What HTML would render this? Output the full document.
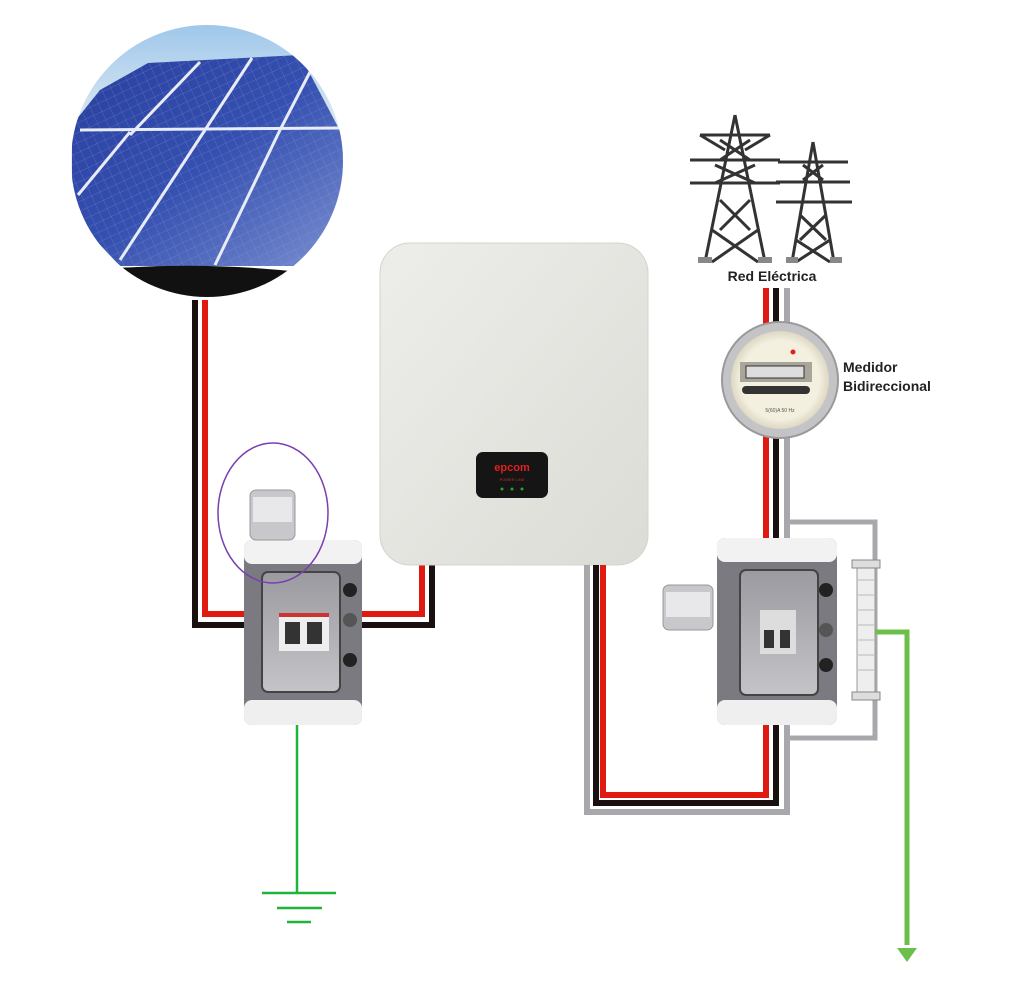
<!DOCTYPE html>
<html><head><meta charset="utf-8"><style>
html,body{margin:0;padding:0;background:#fff;width:1024px;height:1001px;overflow:hidden}
text{font-family:"Liberation Sans","DejaVu Sans",sans-serif}
</style></head><body>
<svg width="1024" height="1001" viewBox="0 0 1024 1001" xmlns="http://www.w3.org/2000/svg">
<defs>
<clipPath id="cc"><circle cx="207" cy="161" r="136"/></clipPath>
<linearGradient id="sky" x1="0" y1="0" x2="0" y2="1"><stop offset="0" stop-color="#9cc6ea"/><stop offset="0.4" stop-color="#e4ecf4"/><stop offset="1" stop-color="#f2f2f2"/></linearGradient>
<linearGradient id="pan" x1="0" y1="0" x2="1" y2="1"><stop offset="0" stop-color="#2a3f9e"/><stop offset="0.5" stop-color="#3550b0"/><stop offset="1" stop-color="#7b8fd0"/></linearGradient>
<pattern id="grid" width="9" height="9" patternUnits="userSpaceOnUse" patternTransform="rotate(-25)"><path d="M0 0H9M0 0V9" stroke="#8fa2e0" stroke-width="0.7" opacity="0.5"/></pattern>
<linearGradient id="inv" x1="0" y1="0" x2="1" y2="1"><stop offset="0" stop-color="#ededea"/><stop offset="1" stop-color="#dcdcd6"/></linearGradient>
<radialGradient id="met" cx="0.5" cy="0.5" r="0.5"><stop offset="0.8" stop-color="#f4f0e0"/><stop offset="1" stop-color="#ddd8c4"/></radialGradient>
<linearGradient id="glass" x1="0" y1="0" x2="0" y2="1"><stop offset="0" stop-color="#9a9aa0"/><stop offset="1" stop-color="#c4c4c8"/></linearGradient>
</defs>

<!-- solar -->
<g clip-path="url(#cc)">
<rect x="60" y="20" width="300" height="290" fill="url(#sky)"/>
<polygon points="72,125 100,90 148,63 300,55 345,140 345,268 120,266 72,215" fill="url(#pan)"/>
<polygon points="72,125 100,90 148,63 300,55 345,140 345,268 120,266 72,215" fill="url(#grid)"/>
<g stroke="#e8ecf8" stroke-width="3" fill="none">
<line x1="80" y1="130" x2="342" y2="128"/>
<line x1="200" y1="62" x2="130" y2="135"/>
<line x1="252" y1="58" x2="205" y2="130"/>
<line x1="310" y1="72" x2="280" y2="130"/>
<line x1="130" y1="132" x2="78" y2="195"/>
<line x1="205" y1="130" x2="120" y2="260"/>
<line x1="280" y1="130" x2="215" y2="265"/>
</g>
<rect x="60" y="266" width="300" height="50" fill="#fff"/>
<path d="M118 268 Q210 262 300 272 Q260 300 200 302 Q150 300 118 268Z" fill="#111"/>
</g>

<!-- left wires -->
<path d="M195 300 V625 H432 V565" fill="none" stroke="#1a1010" stroke-width="6"/>
<path d="M205 300 V614 H422 V565" fill="none" stroke="#e01a10" stroke-width="6"/>

<!-- inverter -->
<rect x="380" y="243" width="268" height="322" rx="30" fill="url(#inv)" stroke="#d4d4ce"/>
<rect x="476" y="452" width="72" height="46" rx="7" fill="#151515"/>
<text x="512" y="471" font-size="11" fill="#e02020" text-anchor="middle" font-weight="bold">epcom</text>
<text x="512" y="481" font-size="4" fill="#c03020" text-anchor="middle">POWER LINE</text>
<circle cx="502" cy="489" r="1.5" fill="#2a2"/><circle cx="512" cy="489" r="1.5" fill="#2a2"/><circle cx="522" cy="489" r="1.5" fill="#2a2"/>

<!-- left box -->
<line x1="297" y1="725" x2="297" y2="892" stroke="#1fb43c" stroke-width="2.5"/>
<g stroke="#1fb43c" stroke-width="2.5"><line x1="262" y1="893" x2="336" y2="893"/><line x1="277" y1="908" x2="322" y2="908"/><line x1="287" y1="922" x2="311" y2="922"/></g>
<rect x="244" y="540" width="118" height="185" rx="8" fill="#7a7a80"/>
<rect x="244" y="540" width="118" height="24" rx="8" fill="#f2f2f2"/>
<rect x="244" y="700" width="118" height="25" rx="8" fill="#efefef"/>
<rect x="262" y="572" width="78" height="120" rx="6" fill="url(#glass)" stroke="#444" stroke-width="2"/>
<rect x="279" y="613" width="50" height="38" fill="#eee"/>
<rect x="279" y="613" width="50" height="4" fill="#c33"/>
<rect x="285" y="622" width="15" height="22" fill="#333"/><rect x="307" y="622" width="15" height="22" fill="#333"/>
<circle cx="350" cy="590" r="7" fill="#222"/><circle cx="350" cy="620" r="7" fill="#555"/><circle cx="350" cy="660" r="7" fill="#222"/>
<rect x="250" y="490" width="45" height="50" rx="6" fill="#c8c8cc" stroke="#999"/>
<rect x="253" y="497" width="39" height="25" fill="#e8e8ea"/>
<ellipse cx="273" cy="513" rx="55" ry="70" fill="none" stroke="#7a3fb0" stroke-width="1.5"/>

<!-- right wires -->
<path d="M587 565 V812 H787 V288" fill="none" stroke="#a8a8ac" stroke-width="6"/>
<path d="M596 565 V803 H776 V288" fill="none" stroke="#1a1010" stroke-width="6"/>
<path d="M603 565 V795 H766 V288" fill="none" stroke="#e01a10" stroke-width="6"/>
<path d="M790 522 H875 V738 H790" fill="none" stroke="#a8a8ac" stroke-width="5"/>
<path d="M875 632 H907 V945" fill="none" stroke="#6cbf4a" stroke-width="5"/>
<path d="M897 948 H917 L907 962Z" fill="#6cbf4a"/>
<rect x="857" y="560" width="18" height="140" rx="3" fill="#eee" stroke="#999"/>
<g stroke="#bbb" stroke-width="1">
<line x1="858" y1="580" x2="874" y2="580"/><line x1="858" y1="595" x2="874" y2="595"/><line x1="858" y1="610" x2="874" y2="610"/><line x1="858" y1="625" x2="874" y2="625"/><line x1="858" y1="640" x2="874" y2="640"/><line x1="858" y1="655" x2="874" y2="655"/><line x1="858" y1="670" x2="874" y2="670"/></g>
<rect x="852" y="560" width="28" height="8" fill="#ddd" stroke="#888"/>
<rect x="852" y="692" width="28" height="8" fill="#ddd" stroke="#888"/>

<!-- right box -->
<rect x="717" y="538" width="120" height="187" rx="8" fill="#7a7a80"/>
<rect x="717" y="538" width="120" height="24" rx="8" fill="#f2f2f2"/>
<rect x="717" y="700" width="120" height="25" rx="8" fill="#efefef"/>
<rect x="740" y="570" width="78" height="125" rx="6" fill="url(#glass)" stroke="#444" stroke-width="2"/>
<rect x="760" y="610" width="36" height="44" fill="#ddd"/>
<rect x="764" y="630" width="10" height="18" fill="#333"/><rect x="780" y="630" width="10" height="18" fill="#333"/>
<circle cx="826" cy="590" r="7" fill="#222"/><circle cx="826" cy="630" r="7" fill="#555"/><circle cx="826" cy="665" r="7" fill="#222"/>
<rect x="663" y="585" width="50" height="45" rx="6" fill="#c8c8cc" stroke="#999"/>
<rect x="666" y="592" width="44" height="25" fill="#e8e8ea"/>

<!-- meter -->
<circle cx="780" cy="380" r="58" fill="#c4c4c6" stroke="#9a9a9c" stroke-width="2"/>
<circle cx="780" cy="380" r="49" fill="url(#met)"/>
<rect x="740" y="362" width="72" height="20" fill="#a8a69a"/>
<rect x="746" y="366" width="58" height="12" fill="#ddd" stroke="#333"/>
<rect x="742" y="386" width="68" height="8" rx="4" fill="#333"/>
<circle cx="793" cy="352" r="2.5" fill="#e02020"/>
<text x="780" y="412" font-size="5" fill="#555" text-anchor="middle">5(60)A 50 Hz</text>
<text x="843" y="372" font-size="14" font-weight="bold" fill="#222">Medidor</text>
<text x="843" y="391" font-size="14" font-weight="bold" fill="#222">Bidireccional</text>

<!-- towers -->
<g stroke="#333" stroke-width="3" fill="none" stroke-linejoin="round">
<path d="M735 115 L705 262 M735 115 L765 262 M700 135 H770 M690 160 H780 M690 183 H780 M720 140 L750 160 M750 140 L720 160 M715 165 L755 183 M755 165 L715 183 M720 200 L750 230 M750 200 L720 230 M712 230 L758 262 M758 230 L712 262 M700 135 L725 150 M770 135 L745 150"/>
<path d="M813 142 L792 262 M813 142 L834 262 M778 162 H848 M776 182 H850 M776 202 H852 M803 165 L823 180 M823 165 L803 180 M800 215 L826 240 M826 215 L800 240 M796 240 L830 262 M830 240 L796 262"/>
</g>
<rect x="698" y="257" width="14" height="6" fill="#888"/><rect x="758" y="257" width="14" height="6" fill="#888"/>
<rect x="786" y="257" width="12" height="6" fill="#888"/><rect x="830" y="257" width="12" height="6" fill="#888"/>
<text x="772" y="281" font-size="14" font-weight="bold" fill="#222" text-anchor="middle">Red Eléctrica</text>
</svg>
</body></html>
